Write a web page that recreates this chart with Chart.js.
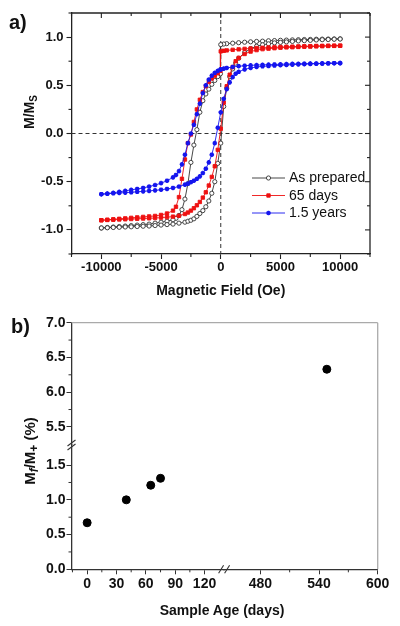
<!DOCTYPE html>
<html>
<head>
<meta charset="utf-8">
<script src="https://cdn.jsdelivr.net/npm/chart.js@4.4.0/dist/chart.umd.min.js"></script>
<style>
  html, body { margin: 0; padding: 0; background: #fff; }
  #wrap { position: relative; width: 400px; height: 626px; overflow: hidden; font-family: "Liberation Sans", Arial, sans-serif; color: #111; }
  canvas { position: absolute; left: 0; }
  .lbl { position: absolute; font-weight: bold; line-height: 1; white-space: nowrap; }
  .ytitle { position: absolute; font-weight: bold; font-size: 14px; line-height: 1; white-space: nowrap; transform: translate(-50%, -50%) rotate(-90deg); }
  .ytitle sub { font-size: 10px; vertical-align: -3px; }
  #tb { font-size: 15px; }
  #tb sub { font-size: 12px; }
</style>
</head>
<body>
<div id="wrap">
  <canvas id="chartA" width="400" height="305" style="top:0"></canvas>
  <canvas id="chartB" width="400" height="321" style="top:305px"></canvas>
  <div class="lbl" style="left:9px;top:12px;font-size:20px">a)</div>
  <div class="lbl" style="left:11px;top:316px;font-size:20px">b)</div>
  <div class="ytitle" style="left:30px;top:112px">M/M<sub>S</sub></div>
  <div class="ytitle" id="tb" style="left:31px;top:451px">M<sub><i>f</i></sub>/M<sub>+</sub> (%)</div>
  <div class="lbl" style="left:222px;top:603px;font-size:14px;transform:translateX(-50%)">Sample Age (days)</div>
</div>
<script>
const FONT = '"Liberation Sans", Arial, Helvetica, sans-serif';

// ---- panel a: hysteresis loops ----
const fieldDown = [10000, 9500, 9000, 8500, 8000, 7500, 7000, 6500, 6000, 5500, 5000, 4500, 4000, 3500, 3000, 2500, 2000, 1500, 1000, 500, 250, 0,
  -25, -250, -500, -750, -1000, -1250, -1500, -1750, -2000, -2250, -2500, -2750, -3000, -3250, -3500, -3750, -4000,
  -4500, -5000, -5500, -6000, -6500, -7000, -7500, -8000, -8500, -9000, -9500, -10000];
const fieldUp = [-10000, -9500, -9000, -8500, -8000, -7500, -7000, -6500, -6000, -5500, -5000, -4500, -4000, -3500, -3000,
  -2750, -2500, -2250, -2000, -1750, -1500, -1250, -1000, -750, -500, -250, 0, 250, 500, 750, 1000, 1250, 1500,
  2000, 2500, 3000, 3500, 4000, 4500, 5000, 5500, 6000, 6500, 7000, 7500, 8000, 8500, 9000, 9500, 10000];

const preparedDown = [0.982, 0.981, 0.98, 0.979, 0.978, 0.976, 0.975, 0.973, 0.971, 0.969, 0.967, 0.964, 0.962, 0.958, 0.955, 0.951, 0.947, 0.942, 0.937, 0.932, 0.928, 0.922,
  0.62, 0.59, 0.55, 0.51, 0.46, 0.41, 0.34, 0.22, 0.04, -0.12, -0.30, -0.52, -0.68, -0.79, -0.85, -0.88, -0.895,
  -0.91, -0.92, -0.93, -0.94, -0.945, -0.95, -0.955, -0.96, -0.965, -0.97, -0.975, -0.98];
const preparedUp = [-0.98, -0.978, -0.975, -0.973, -0.97, -0.968, -0.965, -0.962, -0.96, -0.955, -0.95, -0.945, -0.94, -0.93, -0.92,
  -0.91, -0.90, -0.885, -0.86, -0.83, -0.80, -0.76, -0.70, -0.62, -0.50, -0.31, -0.10, 0.28, 0.47, 0.59, 0.67, 0.73, 0.78,
  0.84, 0.88, 0.905, 0.92, 0.93, 0.94, 0.945, 0.95, 0.955, 0.96, 0.963, 0.966, 0.97, 0.973, 0.975, 0.978, 0.98];

const days65Down = [0.912, 0.911, 0.91, 0.909, 0.908, 0.906, 0.905, 0.903, 0.901, 0.899, 0.897, 0.894, 0.892, 0.889, 0.886, 0.882, 0.878, 0.873, 0.868, 0.862, 0.858, 0.852,
  0.65, 0.625, 0.60, 0.57, 0.535, 0.49, 0.43, 0.35, 0.25, 0.12, -0.01, -0.10, -0.27, -0.47, -0.66, -0.76, -0.80,
  -0.83, -0.845, -0.855, -0.86, -0.865, -0.87, -0.875, -0.88, -0.885, -0.89, -0.895, -0.90];
const days65Up = [-0.90, -0.897, -0.895, -0.892, -0.89, -0.887, -0.885, -0.882, -0.88, -0.877, -0.873, -0.868, -0.862, -0.853, -0.835,
  -0.82, -0.80, -0.775, -0.745, -0.71, -0.665, -0.61, -0.54, -0.45, -0.34, -0.17, 0.05, 0.32, 0.49, 0.61, 0.69, 0.75, 0.785,
  0.825, 0.85, 0.865, 0.875, 0.88, 0.885, 0.89, 0.893, 0.895, 0.898, 0.90, 0.902, 0.904, 0.906, 0.908, 0.909, 0.91];

const years15Down = [0.73, 0.729, 0.728, 0.727, 0.726, 0.725, 0.724, 0.723, 0.722, 0.72, 0.718, 0.716, 0.714, 0.712, 0.71, 0.707, 0.703, 0.698, 0.69, 0.68, 0.673, 0.665,
  0.664, 0.65, 0.63, 0.60, 0.56, 0.50, 0.42, 0.31, 0.20, 0.09, 0.00, -0.10, -0.22, -0.32, -0.39, -0.43, -0.455,
  -0.49, -0.515, -0.535, -0.55, -0.565, -0.575, -0.585, -0.595, -0.605, -0.615, -0.623, -0.63];
const years15Up = [-0.63, -0.625, -0.62, -0.617, -0.613, -0.61, -0.605, -0.60, -0.595, -0.59, -0.583, -0.575, -0.565, -0.55, -0.53,
  -0.52, -0.505, -0.49, -0.47, -0.445, -0.41, -0.365, -0.30, -0.22, -0.10, 0.06, 0.22, 0.36, 0.46, 0.53, 0.585, 0.62, 0.64,
  0.665, 0.68, 0.69, 0.697, 0.70, 0.705, 0.708, 0.711, 0.714, 0.717, 0.72, 0.722, 0.724, 0.726, 0.728, 0.729, 0.73];

const fieldTicks = [-10000, -5000, 0, 5000, 10000];
const fieldMinor = [-12500, -7500, -2500, 2500, 7500, 12500];
const mTicks = [-1.0, -0.5, 0, 0.5, 1.0];
const mMinor = [-1.25, -0.75, -0.25, 0.25, 0.75, 1.25];

// ---- panel b: ratio vs age ----
const ageEarly = [0, 40, 65, 75];
const ratioEarly = [0.67, 1.0, 1.21, 1.31];
const ageLate = [548];
const ratioLate = [6.33];

const ageTicksLow = [0, 30, 60, 90, 120];
const ageMinorLow = [-15, 15, 45, 75, 105];
const ageTicksHigh = [480, 540, 600];
const ageMinorHigh = [510, 570];
const ratioTicksLow = [0, 0.5, 1.0, 1.5];
const ratioMinorLow = [0.25, 0.75, 1.25];
const ratioTicksHigh = [5.5, 6.0, 6.5, 7.0];
const ratioMinorHigh = [5.75, 6.25, 6.75];

function line(ctx, x1, y1, x2, y2) {
  ctx.beginPath(); ctx.moveTo(x1, y1); ctx.lineTo(x2, y2); ctx.stroke();
}

function loop(label, down, up, color, style, fill, radius) {
  const pts = fieldDown.map((h, i) => ({ x: h, y: down[i] }))
    .concat(fieldUp.map((h, i) => ({ x: h, y: up[i] })));
  return {
    label, data: pts, showLine: true, tension: 0,
    borderColor: color, borderWidth: 0.9,
    pointStyle: style, pointRadius: radius, pointBorderWidth: style === 'star' ? 1.4 : 0.9,
    pointBorderColor: color, pointBackgroundColor: fill
  };
}

const loopFrame = {
  id: 'loopFrame',
  beforeDatasetsDraw(chart) {
    const { ctx, chartArea: a, scales: { x, y } } = chart;
    ctx.save();
    ctx.strokeStyle = '#333'; ctx.lineWidth = 1; ctx.setLineDash([4, 3]);
    const x0 = x.getPixelForValue(0), y0 = y.getPixelForValue(0);
    line(ctx, x0, a.top, x0, a.bottom);
    line(ctx, a.left, y0, a.right, y0);
    ctx.restore();
  },
  afterDraw(chart) {
    const { ctx, chartArea: a, scales: { x, y } } = chart;
    ctx.save();
    ctx.strokeStyle = '#222'; ctx.lineWidth = 1.3;
    line(ctx, a.left, a.top, a.right, a.top);
    line(ctx, a.right, a.top, a.right, a.bottom);
    ctx.lineWidth = 1.1;
    fieldTicks.forEach(v => { const p = x.getPixelForValue(v); line(ctx, p, a.top, p, a.top + 5); });
    fieldMinor.forEach(v => {
      const p = x.getPixelForValue(v);
      line(ctx, p, a.top, p, a.top + 3);
      line(ctx, p, a.bottom, p, a.bottom + 3);
    });
    mTicks.forEach(v => { const p = y.getPixelForValue(v); line(ctx, a.right - 5, p, a.right, p); });
    mMinor.forEach(v => {
      const p = y.getPixelForValue(v);
      line(ctx, a.right - 3, p, a.right, p);
      line(ctx, a.left - 3, p, a.left, p);
    });
    // legend inside the plot
    ctx.font = '14px ' + FONT;
    ctx.textBaseline = 'middle';
    chart.data.datasets.forEach((ds, i) => {
      const ly = 178 + i * 17.5;
      ctx.strokeStyle = ds.borderColor; ctx.lineWidth = 0.9;
      line(ctx, 252, ly, 285, ly);
      ctx.fillStyle = ds.pointBackgroundColor;
      ctx.strokeStyle = ds.pointBorderColor;
      ctx.lineWidth = ds.pointBorderWidth;
      Chart.helpers.drawPoint(ctx, { pointStyle: ds.pointStyle, radius: ds.pointRadius, borderWidth: ds.pointBorderWidth, rotation: 0 }, 268.5, ly);
      ctx.fillStyle = '#111';
      ctx.fillText(ds.label, 289, ly + 0.5);
    });
    ctx.restore();
  }
};

new Chart(document.getElementById('chartA'), {
  type: 'scatter',
  data: {
    datasets: [
      Object.assign(loop('As prepared', preparedDown, preparedUp, '#333333', 'circle', '#ffffff', 2.1), { order: 3 }),
      Object.assign(loop('65 days', days65Down, days65Up, '#ee1111', 'rect', '#ee1111', 2.4), { order: 2 }),
      Object.assign(loop('1.5 years', years15Down, years15Up, '#1515ee', 'star', '#1515ee', 2.3), { order: 1 })
    ]
  },
  options: {
    responsive: false, animation: false, events: [],
    layout: { padding: { left: 0, top: 13, right: 30, bottom: 0 } },
    plugins: { legend: { display: false }, tooltip: { enabled: false } },
    scales: {
      x: {
        type: 'linear', min: -12500, max: 12500,
        afterBuildTicks: s => { s.ticks = fieldTicks.map(v => ({ value: v })); },
        afterFit: s => { s.height = 51; },
        ticks: { font: { family: FONT, size: 13, weight: 'bold' }, color: '#111', padding: 1, maxRotation: 0, autoSkip: false, callback: v => String(v) },
        grid: { drawOnChartArea: false, tickLength: 5, tickColor: '#222', tickWidth: 1.1 },
        border: { color: '#222', width: 1.3 },
        title: { display: true, text: 'Magnetic Field (Oe)', color: '#111', font: { family: FONT, size: 14, weight: 'bold' }, padding: { top: 0, bottom: 5 } }
      },
      y: {
        type: 'linear', min: -1.25, max: 1.25,
        afterBuildTicks: s => { s.ticks = mTicks.map(v => ({ value: v })); },
        afterFit: s => { s.width = 71.5; },
        ticks: { font: { family: FONT, size: 13, weight: 'bold' }, color: '#111', padding: 3, autoSkip: false, callback: v => v.toFixed(1) },
        grid: { drawOnChartArea: false, tickLength: 5, tickColor: '#222', tickWidth: 1.1 },
        border: { color: '#222', width: 1.3 }
      }
    }
  },
  plugins: [loopFrame]
});

// ---- panel b ----
const ageFrame = {
  id: 'ageFrame',
  afterDraw(chart) {
    const { ctx, chartArea: a, scales: s } = chart;
    ctx.save();
    ctx.strokeStyle = '#aaaaaa'; ctx.lineWidth = 1.3;
    line(ctx, a.left, a.top, a.right, a.top);
    line(ctx, a.right, a.top, a.right, a.bottom);
    ctx.strokeStyle = '#333'; ctx.lineWidth = 1;
    ageMinorLow.forEach(v => { const p = s.x.getPixelForValue(v); line(ctx, p, a.bottom, p, a.bottom + 3); });
    ageMinorHigh.forEach(v => { const p = s.x2.getPixelForValue(v); line(ctx, p, a.bottom, p, a.bottom + 3); });
    ratioMinorLow.forEach(v => { const p = s.y.getPixelForValue(v); line(ctx, a.left - 3, p, a.left, p); });
    ratioMinorHigh.forEach(v => { const p = s.y2.getPixelForValue(v); line(ctx, a.left - 3, p, a.left, p); });
    // axis breaks
    ctx.lineWidth = 1.1;
    const yb = s.y.top;
    [-2, 2].forEach(d => line(ctx, a.left - 4, yb + d + 3, a.left + 4, yb + d - 3));
    const xb = s.x.right;
    [-3, 3].forEach(d => line(ctx, xb + d - 2.5, a.bottom + 4, xb + d + 2.5, a.bottom - 4));
    ctx.restore();
  }
};

function ageAxis(min, max, ticks, weight) {
  return {
    type: 'linear', position: 'bottom', stack: 'age', stackWeight: weight, min, max,
    afterBuildTicks: s => { s.ticks = ticks.map(v => ({ value: v })); },
    afterFit: s => { s.height = 56.7; },
    ticks: { font: { family: FONT, size: 14, weight: 'bold' }, color: '#111', padding: 1, maxRotation: 0, autoSkip: false, callback: v => String(v) },
    grid: { drawOnChartArea: false, tickLength: 5, tickColor: '#333', tickWidth: 1 },
    border: { color: '#333', width: 1.3 }
  };
}
function ratioAxis(min, max, ticks, weight) {
  return {
    type: 'linear', position: 'left', stack: 'ratio', stackWeight: weight, min, max,
    afterBuildTicks: s => { s.ticks = ticks.map(v => ({ value: v })); },
    afterFit: s => { s.width = 71.5; },
    ticks: { font: { family: FONT, size: 14, weight: 'bold' }, color: '#111', padding: 1, autoSkip: false, callback: v => v.toFixed(1) },
    grid: { drawOnChartArea: false, tickLength: 5, tickColor: '#333', tickWidth: 1 },
    border: { color: '#333', width: 1.3 }
  };
}

new Chart(document.getElementById('chartB'), {
  type: 'scatter',
  data: {
    datasets: [
      { data: ageEarly.map((d, i) => ({ x: d, y: ratioEarly[i] })), xAxisID: 'x', yAxisID: 'y',
        pointRadius: 4, pointBackgroundColor: '#000', pointBorderColor: '#000' },
      { data: ageLate.map((d, i) => ({ x: d, y: ratioLate[i] })), xAxisID: 'x2', yAxisID: 'y2',
        pointRadius: 4, pointBackgroundColor: '#000', pointBorderColor: '#000' }
    ]
  },
  options: {
    responsive: false, animation: false, events: [],
    layout: { padding: { left: 0, top: 17.7, right: 22.3, bottom: 0 } },
    plugins: { legend: { display: false }, tooltip: { enabled: false } },
    scales: {
      x: ageAxis(-16, 140, ageTicksLow, 156),
      x2: ageAxis(443, 600, ageTicksHigh, 157),
      y: ratioAxis(0, 1.79, ratioTicksLow, 1.79),
      y2: ratioAxis(5.24, 7.0, ratioTicksHigh, 1.76)
    }
  },
  plugins: [ageFrame]
});
</script>
</body>
</html>
